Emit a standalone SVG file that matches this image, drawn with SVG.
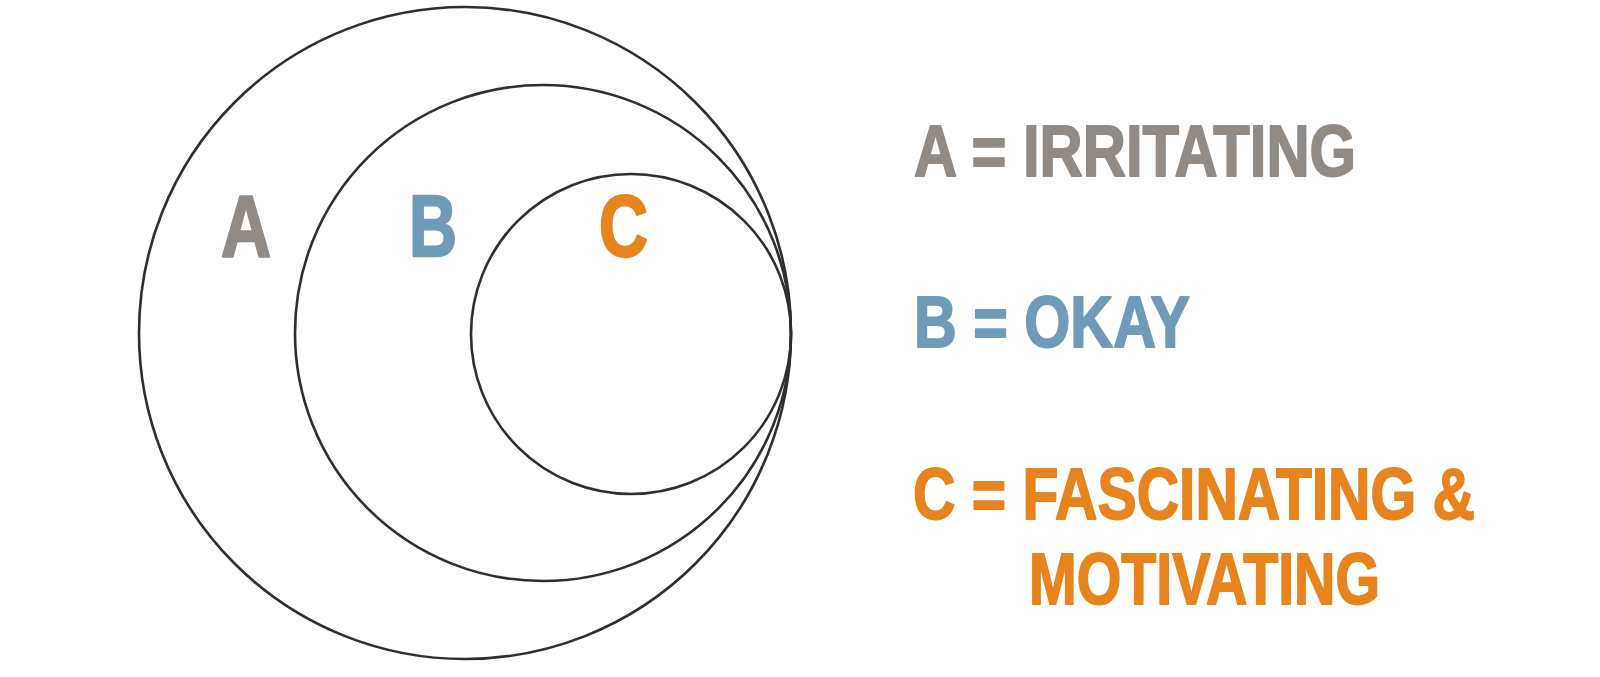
<svg xmlns="http://www.w3.org/2000/svg" width="1600" height="677" viewBox="0 0 1600 677">
<style>
.ring{fill:none;stroke:#2e2e2e;stroke-width:2.6}
.t{font-family:"Liberation Sans",Arial,sans-serif;font-weight:bold;stroke-linejoin:round}
.big{font-size:88px;stroke-width:2.4}
.leg{font-size:72px;stroke-width:1.8}
.a{fill:#928a84;stroke:#928a84}
.b{fill:#6f9bba;stroke:#6f9bba}
.c{fill:#e8841e;stroke:#e8841e}
</style>
<rect width="1600" height="677" fill="#ffffff"/>
<g id="circle-A">
<circle class="ring" cx="465" cy="333" r="326"/>
<text class="t big a" x="221" y="256" textLength="50" lengthAdjust="spacingAndGlyphs">A</text>
</g>
<g id="circle-B">
<circle class="ring" cx="543" cy="333" r="248"/>
<text class="t big b" x="409" y="256" textLength="48" lengthAdjust="spacingAndGlyphs">B</text>
</g>
<g id="circle-C">
<circle class="ring" cx="631" cy="334" r="160"/>
<text class="t big c" x="599" y="256" textLength="49" lengthAdjust="spacingAndGlyphs">C</text>
</g>
<g id="legend-A">
<text class="t leg a" x="914" y="176" textLength="442" lengthAdjust="spacingAndGlyphs">A = IRRITATING</text>
</g>
<g id="legend-B">
<text class="t leg b" x="914" y="347" textLength="276" lengthAdjust="spacingAndGlyphs">B = OKAY</text>
</g>
<g id="legend-C">
<text class="t leg c" x="913" y="519" textLength="562" lengthAdjust="spacingAndGlyphs">C = FASCINATING &amp;</text>
<text class="t leg c" x="1029" y="604" textLength="351" lengthAdjust="spacingAndGlyphs">MOTIVATING</text>
</g>
<g id="connectors"></g>
</svg>
